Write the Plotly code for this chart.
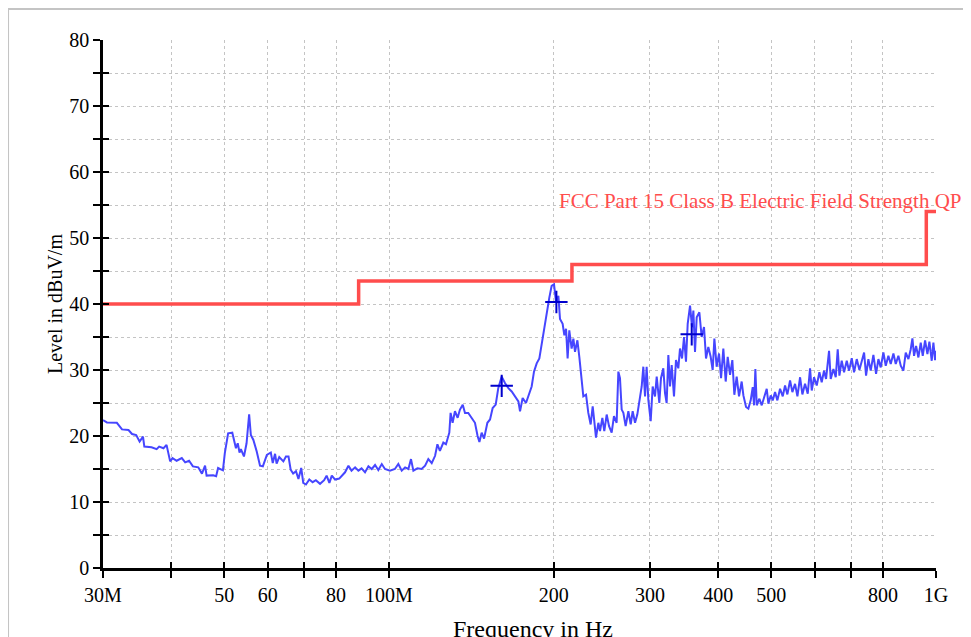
import math
import plotly.graph_objects as go

# ---------------- data ----------------
freq_mhz = [
    30.0, 30.5, 31.8, 32.5, 33.4, 33.9, 34.5, 35.0, 35.5, 35.7, 36.8, 37.6, 38.0, 38.7, 39.2, 39.8,
    40.2, 40.9, 41.8, 42.4, 43.1, 43.8, 44.8, 45.5, 46.1, 46.4, 47.7, 48.3, 48.7, 49.7, 50.1, 50.8,
    51.7, 52.1, 52.5, 52.9, 53.3, 53.6, 54.3, 54.9, 55.5, 55.9, 56.5, 57.3, 58.1, 58.8, 59.8, 60.8,
    61.3, 61.9, 62.3, 63.0, 64.1, 64.8, 65.5, 66.1, 66.8, 67.6, 68.3, 69.1, 69.7, 70.5, 71.5, 72.5,
    73.5, 74.8, 76.1, 76.9, 77.8, 78.6, 79.7, 81.1,
    83.1, 84.3, 85.4, 86.7, 87.9, 89.1, 90.4, 91.7, 93.0, 94.3, 95.6, 97.0, 98.3, 100.4, 102.5,
    104.0, 105.5, 107.0, 108.5, 109.7, 110.8, 112.7, 114.7, 116.4, 118.0, 119.7, 121.4, 122.6,
    123.9, 125.7, 127.1, 128.9, 129.6, 130.7, 132.0, 133.5, 134.8, 136.4, 137.7, 139.6, 141.6,
    143.6, 145.2, 146.3, 147.7, 149.2, 151.3, 153.0, 154.7, 156.7, 158.4, 160.7, 163.0, 165.3,
    167.6, 170.0, 172.4, 173.6, 175.5, 178.0, 180.5, 182.3, 184.1, 186.2, 188.3, 190.2, 192.0,
    194.2, 196.4, 198.3, 200.3, 202.0, 204.0, 205.4, 207.7, 209.2, 210.7, 212.1, 213.6,
    215.7, 217.3, 218.8, 221.0, 222.8, 225.0, 226.6, 229.2, 231.4, 233.7, 235.7, 237.3, 239.0,
    241.4, 243.1, 245.5, 247.5, 250.0, 252.5, 255.3, 257.8, 260.7, 262.6, 264.4, 266.3, 268.2,
    270.8, 273.9, 276.6, 278.9, 281.7, 284.4, 286.8, 289.7, 291.7, 293.8, 295.8, 297.9, 300.9,
    303.4, 306.4, 308.6, 312.0, 314.2, 317.3, 319.6, 321.8, 324.1, 326.4, 328.7, 331.9, 334.7,
    338.0, 340.4, 343.3, 346.2, 349.1, 351.6, 355.1, 358.1, 360.1, 362.6, 365.2, 369.3, 372.9,
    376.6, 379.8, 383.5, 387.3, 390.6, 393.4, 397.2, 401.2, 404.6, 408.5, 412.6, 416.1, 420.2,
    424.3, 427.9, 432.1, 436.4, 441.3,
    444.5, 449.5, 453.9, 458.4, 462.3, 464.9, 467.5, 470.2, 475.5, 480.2, 484.9, 490.4, 493.8,
    498.7, 502.9, 507.9, 512.9, 518.7, 524.6, 529.7, 534.9, 541.0, 546.3, 552.5, 558.0, 564.3,
    569.8, 576.2, 582.8, 588.5, 592.7, 598.5, 605.3, 612.1, 618.1, 624.2, 629.5, 637.5, 642.0,
    649.3, 655.7, 661.2, 665.9, 672.4, 679.1, 686.8, 693.5, 701.4, 708.2, 716.3, 724.4, 731.5,
    738.8, 745.0, 752.3, 759.7, 768.3, 777.0, 784.7, 792.4, 801.4, 809.3, 818.4, 826.5, 835.9,
    844.1, 853.6, 862.1, 871.8, 880.4, 890.4, 899.1, 905.5, 911.8, 919.6, 928.6, 937.8, 945.7,
    955.1, 964.5, 972.6, 982.2, 989.1, 996.1, 1000.0,
]
level_dbuv = [
    22.4, 22.05, 22.0, 21.0, 20.9, 20.3, 20.15, 19.15, 19.9, 18.4, 18.3, 18.0, 18.4, 18.15, 18.65, 16.15,
    16.65, 16.25, 16.65, 16.0, 16.25, 15.4, 15.25, 14.3, 15.5, 14.0, 14.05, 13.9, 15.15, 14.8, 17.4, 20.4,
    20.5, 19.4, 18.15, 18.9, 17.5, 18.0, 16.9, 18.9, 23.3, 20.15, 19.4, 17.65, 15.5, 15.4, 17.15, 17.5,
    15.9, 17.3, 15.8, 16.8, 16.15, 16.9, 16.9, 14.9, 14.3, 14.65, 13.5, 15.15, 12.9, 12.65, 13.4, 13.0,
    13.3, 12.75, 13.3, 14.0, 12.9, 14.0, 13.4, 13.55,
    14.5, 15.5, 14.75, 15.25, 14.75, 15.1, 14.5, 15.4, 15.0, 15.6, 14.85, 15.75, 15.0, 14.75, 15.0,
    15.75, 14.75, 15.25, 15.0, 16.5, 14.75, 15.1, 15.0, 15.5, 16.5, 15.9, 17.0, 18.75,
    17.75, 19.0, 18.75, 20.5, 23.5, 22.0, 23.75, 22.75, 24.0, 24.75, 23.5, 23.5, 22.75,
    22.0, 20.0, 19.1, 20.5, 19.6, 22.0, 22.5, 24.25, 24.75, 27.25, 29.0, 28.0, 27.25,
    26.75, 26.0, 25.25, 23.75, 25.75, 25.0, 26.5, 27.5, 29.75, 31.0, 31.75, 34.0, 36.5,
    39.0, 41.0, 42.75, 43.0, 40.25, 41.25, 37.75, 37.0, 35.25, 36.25, 31.75, 36.0,
    33.25, 34.75, 32.75, 34.5, 32.0, 28.5, 26.0, 26.25, 23.5, 21.75, 24.5, 22.25, 19.75,
    22.0, 20.75, 22.75, 20.75, 23.25, 21.5, 20.5, 23.0, 22.0, 29.75, 28.75, 24.0, 23.5,
    21.5, 23.75, 21.75, 23.75, 22.0, 23.25, 25.0, 27.5, 30.5, 26.0, 30.5, 25.5, 22.25,
    27.5, 26.0, 29.0, 25.0, 28.75, 30.25, 26.5, 25.0, 32.25, 27.5, 30.75, 26.0, 31.5,
    30.25, 33.25, 31.75, 35.0, 31.25, 37.0, 39.75, 36.5, 39.0, 32.75, 38.0, 38.75, 35.0,
    36.5, 31.75, 33.5, 32.0, 30.0, 34.75, 30.5, 32.5, 28.75, 33.25, 28.25, 32.0, 29.25,
    31.5, 26.25, 29.0, 26.0, 28.25,
    26.15, 24.4, 24.15, 25.4, 27.4, 24.65, 30.15, 24.65, 25.65, 24.65, 25.9, 27.15, 24.9,
    26.15, 25.4, 26.65, 25.4, 27.15, 26.0, 27.65, 26.3, 28.4, 26.65, 27.9, 26.0, 28.9,
    26.3, 27.9, 26.4, 30.25, 26.9, 28.9, 27.65, 29.65, 28.15, 29.9, 28.65, 32.9, 28.65,
    30.15, 28.9, 33.15, 29.15, 31.4, 29.65, 31.4, 29.9, 31.8, 29.65, 31.65, 30.0, 31.4,
    32.65, 29.15, 31.65, 29.9, 32.3, 29.4, 31.65, 30.4, 32.65, 30.65, 32.15, 30.9, 32.5,
    30.9, 32.15, 30.65, 29.9, 32.65, 31.65, 33.15, 34.8, 32.15, 33.65, 31.9, 34.15, 32.15,
    34.5, 32.4, 34.3, 31.4, 34.15, 31.5, 32.9,
]

limit_freq = [30, 88, 216, 960, 1000]
limit_level = [40, 43.5, 46, 54, 54]
limit_name = "FCC Part 15 Class B Electric Field Strength QP"

peak_freq = [160.7, 202.3, 357.6]
peak_level = [27.6, 40.3, 35.4]

x_tickvals = [30, 40, 50, 60, 70, 80, 100, 200, 300, 400, 500, 600, 700, 800, 1000]
x_ticktext = ["30M", "", "50", "60", "", "80", "100M", "200", "300", "400", "500", "", "", "800", "1G"]
y_tickvals = list(range(0, 81, 5))
y_ticktext = [str(v) if v % 10 == 0 else "" for v in y_tickvals]

x_title = "Frequency in Hz"
y_title = "Level in dBuV/m"

# ---------------- figure ----------------
SERIF = "Liberation Serif"
fig = go.Figure()

fig.add_trace(go.Scatter(
    x=freq_mhz, y=level_dbuv, mode="lines",
    line=dict(color="#4646ff", width=2), showlegend=False, hoverinfo="skip",
))
fig.add_trace(go.Scatter(
    x=limit_freq, y=limit_level, mode="lines", line_shape="hv",
    line=dict(color="#ff4d4d", width=3.5), showlegend=False, hoverinfo="skip",
))
fig.add_trace(go.Scatter(
    x=peak_freq, y=peak_level, mode="markers",
    marker=dict(symbol="cross-thin", size=16, line=dict(color="#0000cc", width=2)),
    showlegend=False, hoverinfo="skip",
))
# invisible trace to activate the overlay axes (inner tick halves)
fig.add_trace(go.Scatter(
    x=[limit_freq[0]], y=[limit_level[0]], xaxis="x2", yaxis="y2", mode="markers",
    marker=dict(opacity=0), showlegend=False, hoverinfo="skip",
))

xrange = [math.log10(30), 3]
tickfont = dict(family=SERIF, size=20, color="black")

fig.update_layout(
    width=971, height=637,
    margin=dict(l=95, r=43, t=32, b=77),
    paper_bgcolor="white", plot_bgcolor="white",
    font=dict(family=SERIF, color="black"),
    xaxis=dict(
        type="log", range=xrange, tickvals=x_tickvals, ticktext=x_ticktext,
        ticks="outside", ticklen=7, tickwidth=2, tickcolor="black",
        showline=True, linewidth=2.5, linecolor="black",
        showgrid=True, gridcolor="#c4c4c4", gridwidth=1, griddash="dot",
        zeroline=False, tickfont=tickfont,
    ),
    xaxis2=dict(
        type="log", range=xrange, tickvals=x_tickvals, overlaying="x", anchor="y2",
        side="bottom", ticks="inside", ticklen=6, tickwidth=2, tickcolor="black",
        showticklabels=False, showgrid=False, showline=False, zeroline=False,
    ),
    yaxis=dict(
        range=[0, 80], tickvals=y_tickvals, ticktext=y_ticktext,
        ticks="outside", ticklen=7, tickwidth=2, tickcolor="black",
        showline=True, linewidth=2.5, linecolor="black",
        showgrid=True, gridcolor="#c4c4c4", gridwidth=1, griddash="dot",
        zeroline=False, tickfont=tickfont,
    ),
    yaxis2=dict(
        range=[0, 80], tickvals=y_tickvals, overlaying="y", anchor="x2", side="left",
        ticks="inside", ticklen=6, tickwidth=2, tickcolor="black",
        showticklabels=False, showgrid=False, showline=False, zeroline=False,
    ),
    shapes=[dict(
        type="rect", xref="paper", yref="paper",
        x0=-0.114, x1=1.0384, y0=-0.16, y1=1.0587,
        line=dict(color="#c4c4c4", width=2), fillcolor="rgba(0,0,0,0)", layer="below",
    )],
    annotations=[
        dict(text=limit_name, xref="paper", yref="paper", x=0.5455, y=0.6944,
             xanchor="left", yanchor="middle", showarrow=False,
             font=dict(family=SERIF, size=21, color="#ff4d4d")),
        dict(text=x_title, xref="paper", yref="paper", x=0.5168, y=-0.088,
             xanchor="center", yanchor="top", showarrow=False,
             font=dict(family=SERIF, size=24, color="black")),
        dict(text=y_title, xref="paper", yref="paper", x=-0.0576, y=0.5,
             xanchor="center", yanchor="middle", textangle=-90, showarrow=False,
             font=dict(family=SERIF, size=20, color="black")),
    ],
)

fig.write_html("out.html")
